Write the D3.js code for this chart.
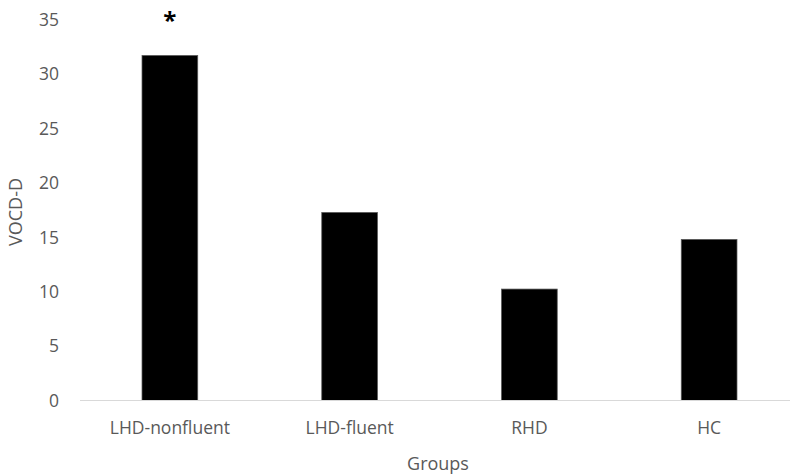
<!DOCTYPE html>
<html>
<head>
<meta charset="utf-8">
<script src="https://cdn.jsdelivr.net/npm/d3@7"></script>
<style>
	body { margin: 0; background: #fff; }
	text { font-family: "Open Sans", sans-serif; }
</style>
</head>
<body>
<script>
(function() {

"use strict";

const GROUPS = ["LHD-nonfluent", "LHD-fluent", "RHD", "HC"];
const VOCD = [31.74, 17.3, 10.25, 14.82];
const MARKS = ["*", "", "", ""];
const Y_TICKS = [0, 5, 10, 15, 20, 25, 30, 35];

const width = 790, height = 475;
const margin = {top: 20, right: -9, bottom: 74.5, left: 80};

let svg = d3.select("body").append("svg")
	.attr("width", width)
	.attr("height", height);

let scale = {
	x: d3.scaleBand().domain(GROUPS).range([margin.left, width - margin.right]).paddingInner(0.69).paddingOuter(0.345),
	y: d3.scaleLinear().domain([0, 35]).range([height - margin.bottom, margin.top]),
};

// y tick labels (no gridlines)
svg.append("g")
	.selectAll("text")
	.data(Y_TICKS)
	.join("text")
		.attr("x", 59)
		.attr("y", d => scale.y(d))
		.attr("dy", "0.35em")
		.attr("text-anchor", "end")
		.attr("fill", "#595959")
		.attr("font-size", 17.5)
		.text(d => d);

// bars
svg.append("g")
	.selectAll("rect")
	.data(GROUPS)
	.join("rect")
		.attr("x", d => scale.x(d))
		.attr("y", (d, i) => scale.y(VOCD[i]))
		.attr("width", scale.x.bandwidth())
		.attr("height", (d, i) => scale.y(0) - scale.y(VOCD[i]))
		.attr("fill", "#000")
		.attr("stroke", "#595959")
		.attr("stroke-width", 0.75);

// baseline
svg.append("line")
	.attr("x1", margin.left)
	.attr("x2", width)
	.attr("y1", scale.y(0))
	.attr("y2", scale.y(0))
	.attr("stroke", "#d9d9d9")
	.attr("stroke-width", 1);

// category labels
svg.append("g")
	.selectAll("text")
	.data(GROUPS)
	.join("text")
		.attr("x", d => scale.x(d) + scale.x.bandwidth() / 2)
		.attr("y", scale.y(0) + 27)
		.attr("dy", "0.35em")
		.attr("text-anchor", "middle")
		.attr("fill", "#595959")
		.attr("font-size", 17.5)
		.text(d => d);

// significance marks
svg.append("g")
	.selectAll("text")
	.data(GROUPS)
	.join("text")
		.attr("x", d => scale.x(d) + scale.x.bandwidth() / 2)
		.attr("y", 29)
		.attr("text-anchor", "middle")
		.attr("fill", "#000")
		.attr("font-size", 24)
		.attr("font-weight", "bold")
		.text((d, i) => MARKS[i]);

// axis titles
svg.append("text")
	.attr("x", 438)
	.attr("y", 464)
	.attr("dy", "0.35em")
	.attr("text-anchor", "middle")
	.attr("fill", "#595959")
	.attr("font-size", 18)
	.text("Groups");

svg.append("text")
	.attr("transform", "translate(16, 212) rotate(-90)")
	.attr("dy", "0.35em")
	.attr("text-anchor", "middle")
	.attr("fill", "#595959")
	.attr("font-size", 18)
	.text("VOCD-D");

})();
</script>
</body>
</html>
